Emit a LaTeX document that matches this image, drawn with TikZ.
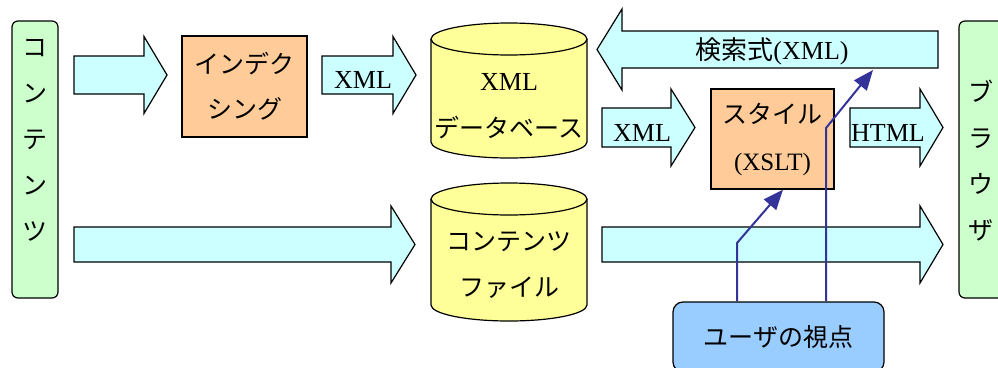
\documentclass[tikz,border=0pt]{standalone}
\usepackage{fontspec}
\setmainfont{Liberation Serif}
\newfontfamily\jp{Noto Sans CJK JP}
\usetikzlibrary{arrows.meta}

\definecolor{flowcyan}{HTML}{CCFFFF}
\definecolor{procorange}{HTML}{FFCC99}
\definecolor{dbyellow}{HTML}{FFFF99}
\definecolor{sidegreen}{HTML}{CCFFCC}
\definecolor{userblue}{HTML}{99CCFF}
\definecolor{viewblue}{HTML}{333399}

\tikzset{
  flow/.style={draw=black, fill=flowcyan, line width=1.2pt, line join=miter},
  dbstyle/.style={draw=black, fill=dbyellow, line width=1.2pt},
  procbox/.style={draw=black, fill=procorange, line width=1.2pt, inner sep=0pt, align=center},
  sidebox/.style={draw=black, fill=sidegreen, line width=1.2pt, rounded corners=6pt,
    minimum width=46pt, minimum height=277pt},
  userbox/.style={draw=black, fill=userblue, line width=1.2pt, rounded corners=10pt,
    minimum width=211pt, minimum height=70pt},
  viewarrow/.style={draw=viewblue, line width=2pt, -{Triangle[length=20pt,width=16pt]}},
  lbl/.style={font=\fontsize{26}{26}\selectfont, inner sep=0pt},
  jlbl/.style={font=\jp\fontsize{25}{46}\selectfont, inner sep=0pt, align=center},
}

% block arrow: start x, head base x, tip x, middle y, half shaft, half head
\newcommand{\flowarrow}[6]{%
  \draw[flow] (#1,#4-#5) -- (#2,#4-#5) -- (#2,#4-#6) -- (#3,#4)
    -- (#2,#4+#6) -- (#2,#4+#5) -- (#1,#4+#5) -- cycle;}

% cylinder: centre x, top y, bottom y
\newcommand{\dbcyl}[3]{%
  \draw[dbstyle] (#1-78,#2) -- (#1-78,#3)
    arc[start angle=180, end angle=0, x radius=78, y radius=16] -- (#1+78,#2);
  \draw[dbstyle] (#1,#2) ellipse[x radius=78, y radius=16];}

\begin{document}
\begin{tikzpicture}[x=1pt, y=-1pt]
  \useasboundingbox (0,0) rectangle (998,367);

  % Block arrows
  \flowarrow{74}{144}{167}{75}{19}{38.5}
  \flowarrow{322}{393}{416}{75}{19}{38.5}
  \flowarrow{74}{391}{415}{244.5}{17.5}{38.5}
  \flowarrow{938}{622}{597}{49.5}{18.5}{40.5}
  \flowarrow{602}{671}{695}{127.5}{19.5}{38.5}
  \flowarrow{850}{920}{943}{127.5}{19.5}{38.5}
  \flowarrow{602}{920}{943}{244.5}{17.5}{38.5}

  % Arrow labels
  \node[lbl] (xmlin) at (363,80) {XML};
  \node[lbl] (xmlout) at (642,133) {XML};
  \node[lbl] (html) at (888,133) {HTML};
  \node[lbl] (query) at (772,51) {{\jp 検索式}(XML)};
  \coordinate (qtip) at (873,70);

  % Contents and browser
  \node[sidebox] (src) at (35,159.5) {};
  \node[jlbl] (srctext) at (35,140) {コ\\ン\\テ\\ン\\ツ};
  \node[sidebox, minimum width=52pt] (browser) at (985,159.5) {};
  \node[jlbl] (browsertext) at (981,161) {ブ\\ラ\\ウ\\ザ};

  % Processing boxes
  \node[procbox, minimum width=125pt, minimum height=101pt,
    font=\jp\fontsize{25}{45}\selectfont] (index) at (244.5,86.5) {インデク\\シング};
  \node[procbox, minimum width=123pt, minimum height=100pt,
    font=\fontsize{25}{47}\selectfont] (style) at (772.5,139) {{\jp スタイル}\\(XSLT)};

  % Databases
  \dbcyl{509}{39}{142}
  \node[lbl] (db) at (509,82) {XML};
  \node[jlbl] (dbname) at (509,128) {データベース};
  \dbcyl{509}{199}{305}
  \node[jlbl] (files) at (509,265) {コンテンツ\\ファイル};

  % User view
  \node[userbox, jlbl] (user) at (778.5,337) {ユーザの視点};
  \coordinate (bendA) at (737,243);
  \coordinate (bendB) at (826,128);
  \draw[viewarrow] (user.north -| bendA) -- (bendA) -- ([xshift=10.5pt]style.south);
  \draw[viewarrow] (user.north -| bendB) -- (bendB) -- (qtip);
\end{tikzpicture}
\end{document}
